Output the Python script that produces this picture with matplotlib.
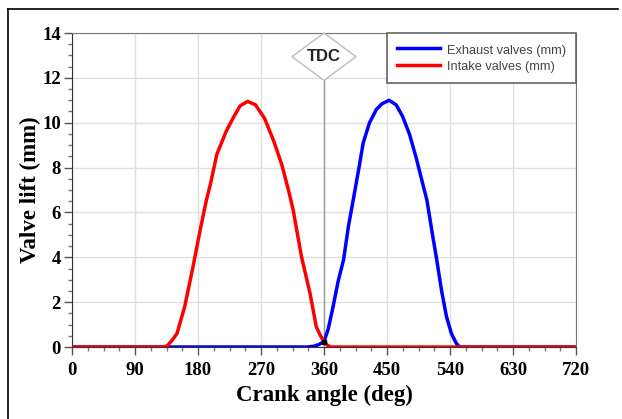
import matplotlib.pyplot as plt
from matplotlib.patches import Polygon
from matplotlib.lines import Line2D
from matplotlib.ticker import MultipleLocator

# intake valve lift (red)
intake_angle = [0, 130, 136, 143, 150, 161, 173, 183, 192, 198, 207, 220, 230, 240,
                251, 262, 275, 288, 300, 310, 316, 328, 340, 349, 355, 360, 365, 369, 720]
intake_lift = [0, 0, 0.05, 0.3, 0.6, 1.8, 3.6, 5.2, 6.55, 7.3, 8.6, 9.6, 10.2, 10.75,
               10.95, 10.8, 10.2, 9.2, 8.1, 6.9, 6.1, 4.0, 2.4, 0.9, 0.5, 0.24, 0.08, 0, 0]

# exhaust valve lift (blue)
exhaust_angle = [0, 335, 345, 352, 360, 366, 373, 380, 388, 395, 402, 410, 416,
                 425, 435, 443, 453, 463, 472, 482, 492, 500, 507, 514, 521, 528,
                 535, 542, 549, 554, 720]
exhaust_lift = [0, 0, 0.03, 0.1, 0.24, 0.8, 1.8, 2.9, 3.9, 5.4, 6.6, 8.0, 9.1,
                10.0, 10.6, 10.85, 11.0, 10.8, 10.3, 9.5, 8.4, 7.4, 6.55, 5.2, 3.9,
                2.5, 1.35, 0.6, 0.16, 0, 0]

tdc_angle = 360
tdc_lift = 0.24

fig = plt.figure(figsize=(6.22, 4.19), dpi=100)
ax = fig.add_axes([72/622, 1 - 347/419, 504/622, 314/419])

ax.plot(exhaust_angle, exhaust_lift, color='#0000ff', lw=2.5, label='Exhaust valves (mm)', zorder=3)
ax.plot(intake_angle, intake_lift, color='#ff0000', lw=2.5, label='Intake valves (mm)', zorder=4)
ax.plot([tdc_angle], [tdc_lift], 's', color='black', ms=3.5, zorder=5)

# TDC marker: gray line under a diamond label
cy, hh, hw = 0.9245, 0.0755, 0.0635
ax.axvline(tdc_angle, ymin=0, ymax=cy - hh, color='#999999', lw=1, zorder=2)
diamond = Polygon([[0.5 - hw, cy], [0.5, cy + hh], [0.5 + hw, cy], [0.5, cy - hh]],
                  closed=True, transform=ax.transAxes, facecolor='white',
                  edgecolor='#bbbbbb', lw=1, zorder=6, clip_on=False)
ax.add_patch(diamond)
ax.text(0.5, cy, 'TDC', transform=ax.transAxes, ha='center', va='center',
        fontsize=12, fontweight='bold', family='Liberation Sans', color='#222222', zorder=7)

ax.set_xlim(0, 720)
ax.set_ylim(0, 14)
ax.xaxis.set_major_locator(MultipleLocator(90))
ax.xaxis.set_minor_locator(MultipleLocator(22.5))
ax.yaxis.set_major_locator(MultipleLocator(2))
ax.yaxis.set_minor_locator(MultipleLocator(0.5))
ax.grid(True, which='major', color='#e0e0e0', lw=1, zorder=0)
ax.set_axisbelow(True)

ax.tick_params(which='major', length=6, width=1, color='#555555')
ax.tick_params(which='minor', length=3, width=1, color='#777777')
ax.tick_params(axis='x', pad=5)
ax.tick_params(axis='y', pad=2)
for lbl in ax.get_xticklabels() + ax.get_yticklabels():
    lbl.set_family('Liberation Serif')
    lbl.set_fontweight('bold')
    lbl.set_fontsize(13.5)

ax.spines['left'].set_color('#333333')
ax.spines['bottom'].set_color('#333333')
ax.spines['top'].set_color('#777777')
ax.spines['right'].set_color('#777777')

ax.set_xlabel('Crank angle (deg)', family='Liberation Serif', fontweight='bold', fontsize=16.5, labelpad=4)
ax.set_ylabel('Valve lift (mm)', family='Liberation Serif', fontweight='bold', fontsize=16.5, labelpad=1)

leg = ax.legend(loc='upper right', prop={'family': 'Liberation Sans', 'size': 9.2},
                handlelength=3.4, handleheight=1.25, fancybox=False, framealpha=1,
                borderaxespad=0, edgecolor='#666666', labelcolor='#444444',
                borderpad=0.75, handletextpad=0.55, labelspacing=0.2)
leg.get_frame().set_linewidth(1.2)
leg.set_zorder(8)

# outer frame lines of the original picture
fig.add_artist(Line2D([8/622, 8/622], [0, 1 - 9/419], color='black', lw=1.2))
fig.add_artist(Line2D([8/622, 618/622], [1 - 9/419, 1 - 9/419], color='black', lw=1.2))

fig.savefig('out.png', dpi=100)
